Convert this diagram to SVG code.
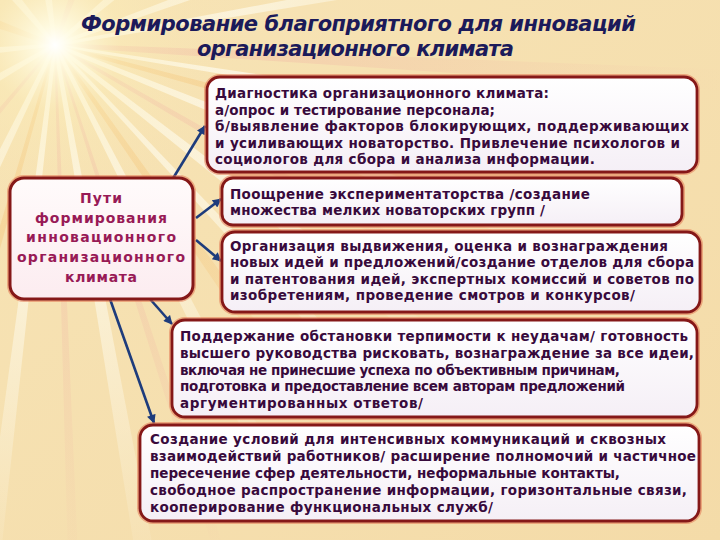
<svg xmlns="http://www.w3.org/2000/svg" width="720" height="540" viewBox="0 0 720 540">
<defs>
  <linearGradient id="bg" x1="0" y1="0" x2="1" y2="1">
    <stop offset="0" stop-color="#f7e4b6"/>
    <stop offset="1" stop-color="#f4dba8"/>
  </linearGradient>
  <radialGradient id="glow" cx="55" cy="45" r="190" gradientUnits="userSpaceOnUse">
    <stop offset="0" stop-color="#ffffff" stop-opacity="1"/>
    <stop offset="0.1" stop-color="#fffbe2" stop-opacity="0.95"/>
    <stop offset="0.35" stop-color="#fbecb8" stop-opacity="0.5"/>
    <stop offset="1" stop-color="#f6e0b0" stop-opacity="0"/>
  </radialGradient>
  <linearGradient id="rayW" x1="0" y1="0" x2="1" y2="0">
    <stop offset="0" stop-color="#fffef4" stop-opacity="0.95"/>
    <stop offset="1" stop-color="#fffef4" stop-opacity="0"/>
  </linearGradient>
  <linearGradient id="rayP" x1="0" y1="0" x2="1" y2="0">
    <stop offset="0" stop-color="#f0b4a4" stop-opacity="0.5"/>
    <stop offset="1" stop-color="#f0b4a4" stop-opacity="0"/>
  </linearGradient>
  <linearGradient id="rayO" x1="0" y1="0" x2="1" y2="0">
    <stop offset="0" stop-color="#f4c070" stop-opacity="0.55"/>
    <stop offset="1" stop-color="#f4c070" stop-opacity="0"/>
  </linearGradient>
  <linearGradient id="boxFill" x1="0" y1="0" x2="0" y2="1">
    <stop offset="0" stop-color="#ffffff"/>
    <stop offset="1" stop-color="#f5eff6"/>
  </linearGradient>
  <linearGradient id="leftFill" x1="0" y1="0" x2="0" y2="1">
    <stop offset="0" stop-color="#fffbfb"/>
    <stop offset="1" stop-color="#fcecf0"/>
  </linearGradient>
  <polygon id="ray" points="0,-1.5 620,-9 620,9 0,1.5"/>
  <marker id="ah" viewBox="0 0 10 10" markerWidth="10" markerHeight="9" refX="9" refY="5" orient="auto" markerUnits="userSpaceOnUse">
    <path d="M0,0 L10,5 L0,10 Z" fill="#1e3c7c"/>
  </marker>
  <style>
    .glw { fill:none; stroke:#e2704c; stroke-opacity:0.5; stroke-width:6; }
    .rb { fill:url(#boxFill); stroke:#851818; stroke-width:2.8; }
    .lb { fill:url(#leftFill); stroke:#851818; stroke-width:3; }
    .t { font-family:"DejaVu Sans","Verdana",sans-serif; font-weight:bold; font-size:13.5px; fill:#380a3c; }
    .lt { font-family:"DejaVu Sans","Verdana",sans-serif; font-weight:bold; font-size:14px; fill:#981a56; text-anchor:middle; }
    .title { font-family:"DejaVu Sans","Verdana",sans-serif; font-weight:bold; font-style:italic; font-size:21px; fill:#1b1a5a; }
    .ar { fill:none; stroke:#1e3c7c; stroke-width:2.6; marker-end:url(#ah); }
  </style>
</defs>

<rect x="0" y="0" width="720" height="540" fill="url(#bg)"/>
<g id="rays">
  <use href="#ray" fill="url(#rayP)" transform="translate(55,45) rotate(3) scale(1.1,1.2)"/>
  <use href="#ray" fill="url(#rayW)" transform="translate(55,45) rotate(-10) scale(0.8,0.8)"/>
  <use href="#ray" fill="url(#rayW)" transform="translate(55,45) rotate(9) scale(1,0.7)"/>
  <use href="#ray" fill="url(#rayO)" transform="translate(55,45) rotate(15) scale(0.9,0.8)"/>
  <use href="#ray" fill="url(#rayW)" transform="translate(55,45) rotate(22) scale(0.9,1)"/>
  <use href="#ray" fill="url(#rayP)" transform="translate(55,45) rotate(30) scale(0.8,0.7)"/>
  <use href="#ray" fill="url(#rayW)" transform="translate(55,45) rotate(38) scale(0.8,1.1)"/>
  <use href="#ray" fill="url(#rayW)" transform="translate(55,45) rotate(47) scale(0.8,0.8)"/>
  <use href="#ray" fill="url(#rayO)" transform="translate(55,45) rotate(55) scale(0.8,0.9)"/>
  <use href="#ray" fill="url(#rayW)" transform="translate(55,45) rotate(63) scale(0.8,1)"/>
  <use href="#ray" fill="url(#rayP)" transform="translate(55,45) rotate(72) scale(0.9,0.6)"/>
  <use href="#ray" fill="url(#rayW)" transform="translate(55,45) rotate(80) scale(0.9,1.1)"/>
  <use href="#ray" fill="url(#rayP)" transform="translate(55,45) rotate(88) scale(0.9,0.6)"/>
  <use href="#ray" fill="url(#rayW)" transform="translate(55,45) rotate(97) scale(0.9,1)"/>
  <use href="#ray" fill="url(#rayO)" transform="translate(55,45) rotate(106) scale(0.8,0.7)"/>
  <use href="#ray" fill="url(#rayW)" transform="translate(55,45) rotate(116) scale(0.6,1)"/>
  <use href="#ray" fill="url(#rayP)" transform="translate(55,45) rotate(130) scale(0.5,0.6)"/>
  <use href="#ray" fill="url(#rayW)" transform="translate(55,45) rotate(150) scale(0.4,1)"/>
  <use href="#ray" fill="url(#rayW)" transform="translate(55,45) rotate(175) scale(0.4,0.9)"/>
  <use href="#ray" fill="url(#rayO)" transform="translate(55,45) rotate(200) scale(0.3,1)"/>
  <use href="#ray" fill="url(#rayW)" transform="translate(55,45) rotate(230) scale(0.3,1)"/>
  <use href="#ray" fill="url(#rayW)" transform="translate(55,45) rotate(262) scale(0.3,1)"/>
  <use href="#ray" fill="url(#rayP)" transform="translate(55,45) rotate(290) scale(0.3,0.9)"/>
  <use href="#ray" fill="url(#rayW)" transform="translate(55,45) rotate(320) scale(0.4,1)"/>
  <use href="#ray" fill="url(#rayW)" transform="translate(55,45) rotate(340) scale(0.6,0.9)"/>
  <circle cx="55" cy="45" r="190" fill="url(#glow)"/>
</g>

<g id="title">
  <text class="title" x="81" y="31" textLength="555" lengthAdjust="spacing">Формирование благоприятного для инноваций</text>
  <text class="title" x="197" y="56" textLength="317" lengthAdjust="spacing">организационного климата</text>
</g>

<g id="connectors">
  <path class="ar" d="M172,180 L205,126"/>
  <path class="ar" d="M196,218 L221,199"/>
  <path class="ar" d="M196,240 L221,261"/>
  <path class="ar" d="M150,299 L172,324"/>
  <path class="ar" d="M110,299 L154,423"/>
</g>

<g id="center">
  <rect class="glw" x="10" y="178" width="183" height="121" rx="14"/>
  <rect class="lb" x="10" y="178" width="183" height="121" rx="14"/>
  <text class="lt" x="101" y="203" textLength="42" lengthAdjust="spacing">Пути</text>
  <text class="lt" x="101" y="223" textLength="132" lengthAdjust="spacing">формирования</text>
  <text class="lt" x="101" y="242" textLength="150" lengthAdjust="spacing">инновационного</text>
  <text class="lt" x="101" y="262" textLength="168" lengthAdjust="spacing">организационного</text>
  <text class="lt" x="101" y="282" textLength="72" lengthAdjust="spacing">климата</text>
</g>

<g id="box1">
  <rect class="glw" x="207" y="77" width="490" height="95" rx="13"/>
  <rect class="rb" x="207" y="77" width="490" height="95" rx="13"/>
  <text class="t" x="215" y="98" textLength="334" lengthAdjust="spacing">Диагностика организационного климата:</text>
  <text class="t" x="215" y="114.5" textLength="280" lengthAdjust="spacing">а/опрос и тестирование персонала;</text>
  <text class="t" x="215" y="131" textLength="474" lengthAdjust="spacing">б/выявление факторов блокирующих, поддерживающих</text>
  <text class="t" x="215" y="147.5" textLength="465" lengthAdjust="spacing">и усиливающих новаторство. Привлечение психологов и</text>
  <text class="t" x="215" y="164" textLength="380" lengthAdjust="spacing">социологов для сбора и анализа информации.</text>
</g>

<g id="box2">
  <rect class="glw" x="222" y="178" width="460" height="47" rx="11"/>
  <rect class="rb" x="222" y="178" width="460" height="47" rx="11"/>
  <text class="t" x="230" y="199" textLength="360" lengthAdjust="spacing">Поощрение экспериментаторства /создание</text>
  <text class="t" x="230" y="215" textLength="315" lengthAdjust="spacing">множества мелких новаторских групп /</text>
</g>

<g id="box3">
  <rect class="glw" x="222" y="232" width="478" height="80" rx="13"/>
  <rect class="rb" x="222" y="232" width="478" height="80" rx="13"/>
  <text class="t" x="230" y="251" textLength="438" lengthAdjust="spacing">Организация выдвижения, оценка и вознаграждения</text>
  <text class="t" x="230" y="267" textLength="464" lengthAdjust="spacing">новых идей и предложений/создание отделов для сбора</text>
  <text class="t" x="230" y="283.5" textLength="464" lengthAdjust="spacing">и патентования идей, экспертных комиссий и советов по</text>
  <text class="t" x="230" y="300" textLength="405" lengthAdjust="spacing">изобретениям, проведение смотров и конкурсов/</text>
</g>

<g id="box4">
  <rect class="glw" x="172" y="320" width="525" height="97" rx="13"/>
  <rect class="rb" x="172" y="320" width="525" height="97" rx="13"/>
  <text class="t" x="180" y="341" textLength="508" lengthAdjust="spacing">Поддержание обстановки терпимости к неудачам/ готовность</text>
  <text class="t" x="180" y="358" textLength="514" lengthAdjust="spacing">высшего руководства рисковать, вознаграждение за все идеи,</text>
  <text class="t" x="180" y="374.5" textLength="440" lengthAdjust="spacing">включая не принесшие успеха по объективным причинам,</text>
  <text class="t" x="180" y="391" textLength="445" lengthAdjust="spacing">подготовка и предоставление всем авторам предложений</text>
  <text class="t" x="180" y="407.5" textLength="243" lengthAdjust="spacing">аргументированных ответов/</text>
</g>

<g id="box5">
  <rect class="glw" x="140" y="425" width="559" height="96" rx="13"/>
  <rect class="rb" x="140" y="425" width="559" height="96" rx="13"/>
  <text class="t" x="150" y="444" textLength="516" lengthAdjust="spacing">Создание условий для интенсивных коммуникаций и сквозных</text>
  <text class="t" x="150" y="461" textLength="546" lengthAdjust="spacing">взаимодействий работников/ расширение полномочий и частичное</text>
  <text class="t" x="150" y="478" textLength="470" lengthAdjust="spacing">пересечение сфер деятельности, неформальные контакты,</text>
  <text class="t" x="150" y="495" textLength="537" lengthAdjust="spacing">свободное распространение информации, горизонтальные связи,</text>
  <text class="t" x="150" y="512" textLength="343" lengthAdjust="spacing">кооперирование функциональных служб/</text>
</g>
</svg>
